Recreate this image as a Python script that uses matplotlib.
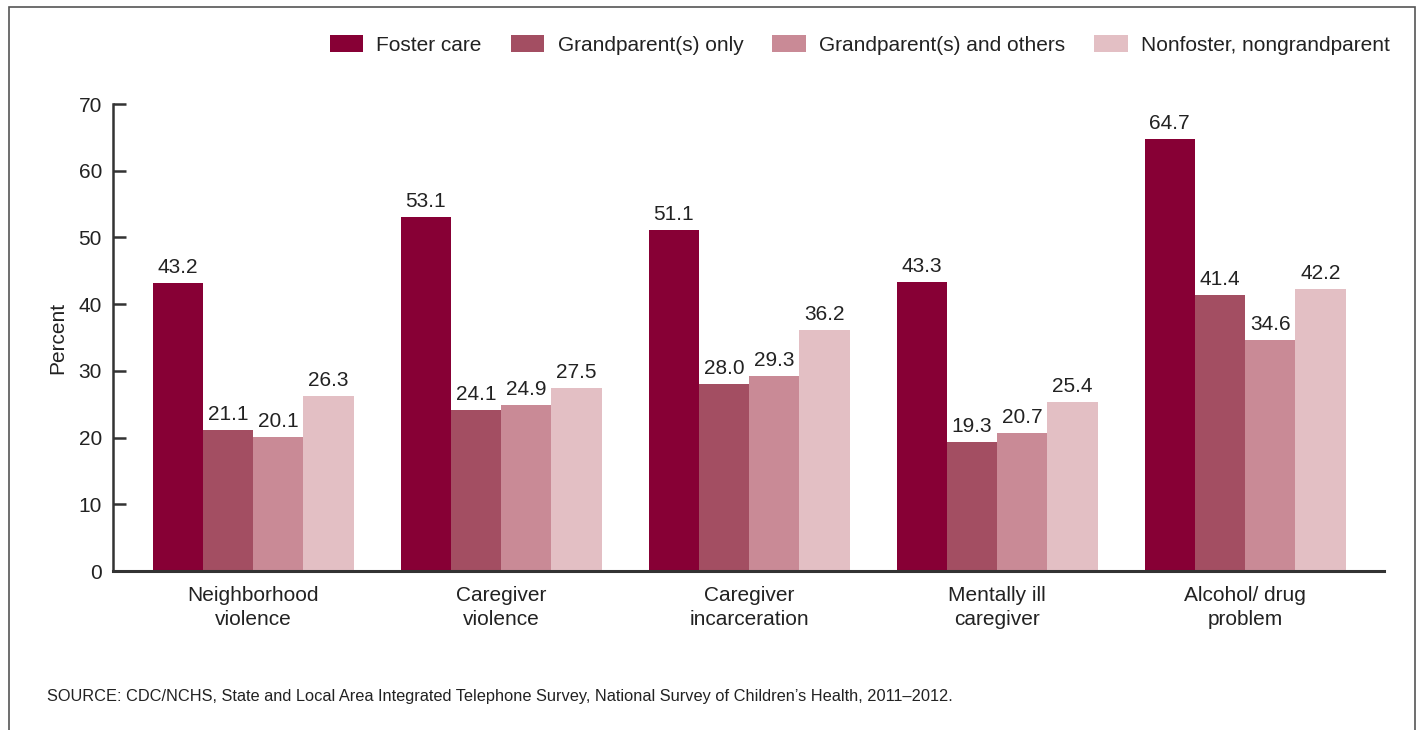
import numpy as np
import matplotlib
matplotlib.use("Agg")
import matplotlib.pyplot as plt
from matplotlib.patches import Rectangle

plt.rcParams['font.family'] = ['Liberation Sans', 'DejaVu Sans']

categories = ["Neighborhood\nviolence", "Caregiver\nviolence", "Caregiver\nincarceration",
              "Mentally ill\ncaregiver", "Alcohol/ drug\nproblem"]
series = ["Foster care", "Grandparent(s) only", "Grandparent(s) and others",
          "Nonfoster, nongrandparent"]
foster = [43.2, 53.1, 51.1, 43.3, 64.7]
grand_only = [21.1, 24.1, 28.0, 19.3, 41.4]
grand_others = [20.1, 24.9, 29.3, 20.7, 34.6]
nonfoster = [26.3, 27.5, 36.2, 25.4, 42.2]
colors = ["#870035", "#A34E62", "#C98A96", "#E3BFC4"]
txt = "#222222"

fig = plt.figure(figsize=(14.23, 7.30), dpi=100)
ax = fig.add_axes([0.0794, 0.2178, 0.8932, 0.6397])

# outer frame
fig.patches.append(Rectangle((9/1423, -0.05), (1415-9)/1423, 1 - 7/730 + 0.05,
                             transform=fig.transFigure, fill=False,
                             edgecolor="#555555", linewidth=1.2))

x = np.arange(len(categories))
w = 0.2026
for i, (vals, name) in enumerate(zip([foster, grand_only, grand_others, nonfoster], series)):
    pos = x + (i - 1.5) * w
    ax.bar(pos, vals, width=w, color=colors[i], label=name, edgecolor="none")
    for p, v in zip(pos, vals):
        ax.text(p, v + 0.9, f"{v:.1f}", ha="center", va="bottom", fontsize=15, color=txt)

ax.set_xlim(-0.565, 4.56)
ax.set_ylim(0, 70)
ax.set_yticks(range(0, 71, 10))
ax.set_xticks(x)
ax.set_xticklabels(categories, fontsize=15, color=txt, linespacing=1.3)
ax.tick_params(axis="x", length=0, pad=11)
ax.tick_params(axis="y", direction="in", length=9.5, width=1.8, color="#333333",
               labelsize=15, labelcolor=txt, pad=8)
for s in ["top", "right"]:
    ax.spines[s].set_visible(False)
ax.spines["left"].set_color("#333333")
ax.spines["left"].set_linewidth(1.8)
ax.spines["bottom"].set_color("#333333")
ax.spines["bottom"].set_linewidth(2.2)
ax.set_ylabel("Percent", fontsize=15, color=txt, labelpad=8)

fig.legend(loc="center right", bbox_to_anchor=(1390/1423, 1 - 45/730), ncol=4, frameon=False,
           fontsize=15, handlelength=1.59, handleheight=0.82, columnspacing=1.4,
           handletextpad=0.65, borderpad=0, borderaxespad=0, labelcolor=txt)

fig.text(47/1423, 1 - 697/730, "SOURCE: CDC/NCHS, State and Local Area Integrated Telephone Survey, "
         "National Survey of Children\u2019s Health, 2011\u20132012.",
         fontsize=11.8, color=txt, va="center", ha="left")

fig.savefig("out.png", dpi=100)
